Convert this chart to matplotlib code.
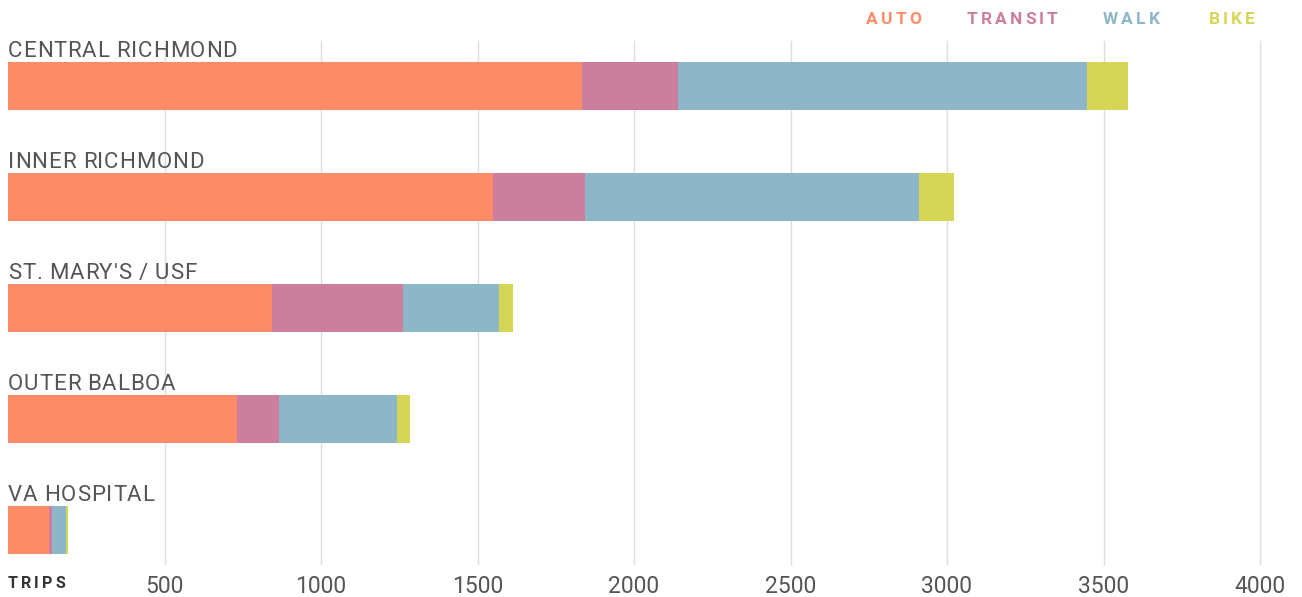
import matplotlib
matplotlib.use("Agg")
import matplotlib.pyplot as plt
import numpy as np

# values (trips per mode)
neighborhoods = ["CENTRAL RICHMOND", "INNER RICHMOND", "ST. MARY'S / USF", "OUTER BALBOA", "VA HOSPITAL"]
auto = [1835, 1548, 844, 732, 131]
transit = [304, 294, 419, 135, 10]
walk = [1308, 1068, 307, 377, 44]
bike = [131, 112, 45, 41, 7]

modes = ["AUTO", "TRANSIT", "WALK", "BIKE"]
colors = ["#FF8C69", "#CC7F9C", "#8DB6C8", "#D5D655"]
xticks = [500, 1000, 1500, 2000, 2500, 3000, 3500, 4000]

W, H = 1302, 597
plt.rcParams["font.family"] = ["Roboto", "DejaVu Sans"]
fig = plt.figure(figsize=(W / 100, H / 100), dpi=100)

# axes spans px 8..1260 horizontally, 41..564 vertically (from top)
ax = fig.add_axes([8 / W, (H - 564) / H, (1260 - 8) / W, (564 - 41) / H])
ax.set_xlim(0, 4000)
step = 111.0
ax.set_ylim((523 - 45) / step, -45 / step)
bar_h = 48 / step

y = np.arange(len(neighborhoods))
left = np.zeros(len(neighborhoods))
for vals, c in zip([auto, transit, walk, bike], colors):
    ax.barh(y, vals, left=left, height=bar_h, color=c, linewidth=0, zorder=2)
    left += np.array(vals)

renderer = fig.canvas.get_renderer()

for i, name in enumerate(neighborhoods):
    # slightly tracked labels to mimic the wider original face
    x = 0.0
    for ch in name:
        t = ax.text(x, i - bar_h / 2 - 5 / step, ch, ha="left", va="baseline",
                    fontsize=16, color="#555555")
        w_px = t.get_window_extent(renderer).width + 0.8
        x += w_px * 4000 / (1260 - 8)

for xv in xticks:
    ax.axvline(xv, color="#DDDDDD", linewidth=1, zorder=1, clip_on=False)

ax.set_xticks(xticks)
ax.set_xticklabels([str(v) for v in xticks], fontsize=16.5, color="#555555")
ax.tick_params(axis="x", length=0, pad=8)
ax.set_yticks([])
for s in ax.spines.values():
    s.set_visible(False)
ax.patch.set_alpha(0)


def tracked(x_px, y_px, word, tracking, **kw):
    # draw letters one by one with extra spacing (pixel coords from top-left)
    x = x_px
    for ch in word:
        t = fig.text(x / W, 1 - y_px / H, ch, ha="left", va="center", **kw)
        x += t.get_window_extent(renderer).width + tracking


legend_x = [866, 967, 1103, 1209]
for m, c, lx in zip(modes, colors, legend_x):
    tracked(lx, 20, m, 3.0, fontsize=12.5, fontweight="bold", color=c)

tracked(8, 584, "TRIPS", 3.0, fontsize=11.5, fontweight="bold", color="#333333")

fig.savefig("out.png", dpi=100, facecolor="white")
